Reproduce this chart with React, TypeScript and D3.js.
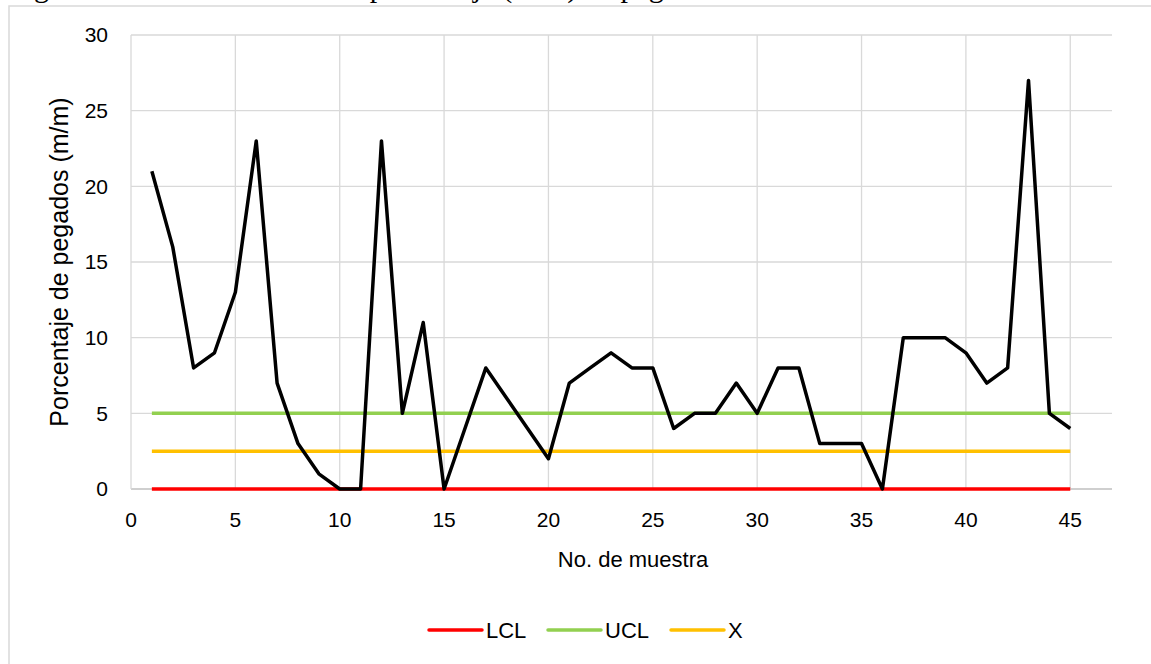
import React from "react";
import * as d3 from "d3";

// Sample numbers 1..45 and the measured percentage of stuck pieces (m/m)
const samples: number[] = Array.from({ length: 45 }, (_, i) => i + 1);
const pegados: number[] = [
  21, 16, 8, 9, 13, 23, 7, 3, 1, 0,
  0, 23, 5, 11, 0, 4, 8, 6, 4, 2,
  7, 8, 9, 8, 8, 4, 5, 5, 7, 5,
  8, 8, 3, 3, 3, 0, 10, 10, 10, 9,
  7, 8, 27, 5, 4,
];

// Control limits
const limitNames: string[] = ["LCL", "UCL", "X"];
const limitValues: number[] = [0, 5, 2.5];
const limitColors: string[] = ["#ff0000", "#92d050", "#ffc000"];

const xTicks: number[] = [0, 5, 10, 15, 20, 25, 30, 35, 40, 45];
const yTicks: number[] = [0, 5, 10, 15, 20, 25, 30];

const W = 1151;
const H = 664;
const plot = { left: 131, right: 1112, top: 35, bottom: 489 };
const font = "'Liberation Sans', Arial, sans-serif";

export default function App() {
  const x = d3.scaleLinear().domain([0, 47]).range([plot.left, plot.right]);
  const y = d3.scaleLinear().domain([0, 30]).range([plot.bottom, plot.top]);

  const line = d3
    .line<number>()
    .x((_, i) => x(samples[i]))
    .y((d) => y(d));

  const first = samples[0];
  const last = samples[samples.length - 1];

  // legend layout
  const legendY = 630;
  const legendItems = [
    { x0: 429, tx: 486 },
    { x0: 548, tx: 605 },
    { x0: 671, tx: 728 },
  ];

  return (
    <svg
      width={W}
      height={H}
      style={{ position: "absolute", left: 0, top: 0, background: "#fff" }}
    >
      {/* document caption above the chart */}
      <text
        x={9}
        y={-3}
        fontFamily="'Liberation Serif', 'Times New Roman', serif"
        fontSize={30}
        fill="#000"
      >
        Figura 3. Carta de control del porcentaje (m/m) de pegados
      </text>

      {/* chart frame */}
      <rect
        x={9}
        y={6}
        width={W + 20}
        height={H + 20}
        fill="#fff"
        stroke="#d9d9d9"
        strokeWidth={1.5}
      />

      {/* gridlines */}
      {yTicks.map((t) => (
        <line
          key={"gy" + t}
          x1={plot.left}
          x2={plot.right}
          y1={y(t)}
          y2={y(t)}
          stroke={t === 0 ? "#bfbfbf" : "#d9d9d9"}
          strokeWidth={1.3}
        />
      ))}
      {xTicks.map((t) => (
        <line
          key={"gx" + t}
          x1={x(t)}
          x2={x(t)}
          y1={plot.top}
          y2={plot.bottom}
          stroke="#d9d9d9"
          strokeWidth={1.3}
        />
      ))}

      {/* tick labels */}
      {yTicks.map((t) => (
        <text
          key={"ty" + t}
          x={108}
          y={y(t)}
          dy="0.35em"
          textAnchor="end"
          fontFamily={font}
          fontSize={21}
          fill="#000"
        >
          {t}
        </text>
      ))}
      {xTicks.map((t) => (
        <text
          key={"tx" + t}
          x={x(t)}
          y={520}
          dy="0.35em"
          textAnchor="middle"
          fontFamily={font}
          fontSize={21}
          fill="#000"
        >
          {t}
        </text>
      ))}

      {/* axis titles */}
      <text
        transform={`translate(68, ${(plot.top + plot.bottom) / 2}) rotate(-90)`}
        textAnchor="middle"
        fontFamily={font}
        fontSize={25}
        fill="#000"
      >
        Porcentaje de pegados (m/m)
      </text>
      <text
        x={633}
        y={567}
        textAnchor="middle"
        fontFamily={font}
        fontSize={22}
        fill="#000"
      >
        No. de muestra
      </text>

      {/* control limit lines */}
      {limitValues.map((v, i) => (
        <line
          key={"lim" + i}
          x1={x(first)}
          x2={x(last)}
          y1={y(v)}
          y2={y(v)}
          stroke={limitColors[i]}
          strokeWidth={3.5}
        />
      ))}

      {/* measured series */}
      <path
        d={line(pegados) || ""}
        fill="none"
        stroke="#000"
        strokeWidth={3.5}
        strokeLinejoin="round"
      />

      {/* legend */}
      {limitNames.map((name, i) => (
        <g key={"lg" + name}>
          <line
            x1={legendItems[i].x0}
            x2={legendItems[i].x0 + 53}
            y1={legendY}
            y2={legendY}
            stroke={limitColors[i]}
            strokeWidth={3.5}
            strokeLinecap="round"
          />
          <text
            x={legendItems[i].tx}
            y={legendY}
            dy="0.35em"
            fontFamily={font}
            fontSize={22}
            fill="#000"
          >
            {name}
          </text>
        </g>
      ))}
    </svg>
  );
}
